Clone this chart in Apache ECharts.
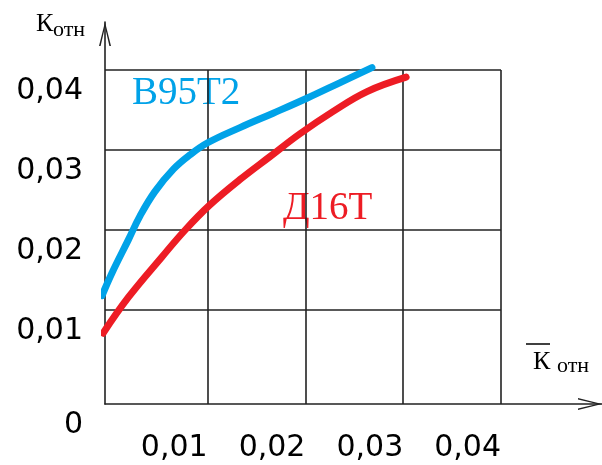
<!DOCTYPE html>
<html><head><meta charset="utf-8">
<script src="https://cdn.jsdelivr.net/npm/echarts@6/dist/echarts.min.js"></script>
<style>html,body{margin:0;padding:0;background:#fff}#c{width:602px;height:465px}</style>
</head><body><div id="c"></div>
<script>
// Tick values and labels
const xTickValues = [0.01, 0.02, 0.03, 0.04];
const xTickLabels = ['0,01', '0,02', '0,03', '0,04'];
const yTickValues = [0.01, 0.02, 0.03, 0.04];
const yTickLabels = ['0,01', '0,02', '0,03', '0,04'];
const originLabel = '0';
// Axis extents (hand-drawn origin sits slightly below/left of zero)
const X_MIN = -0.0005, X_MAX = 0.04;
const Y_MIN = -0.00175, Y_MAX = 0.04;

// Series: В95Т2 (blue)
const b95t2X = [-0.0008, 0.0002, 0.0019, 0.0031, 0.0046, 0.0065, 0.0082, 0.0100, 0.0133, 0.0167, 0.0202, 0.0235, 0.0268];
const b95t2Y = [0.0118, 0.0146, 0.0188, 0.0218, 0.0248, 0.0276, 0.0294, 0.0309, 0.0328, 0.0346, 0.0365, 0.0384, 0.0403];
// Series: Д16Т (red)
const d16tX = [-0.0007, 0.0019, 0.0053, 0.0077, 0.0102, 0.0133, 0.0164, 0.0194, 0.0228, 0.0263, 0.0303];
const d16tY = [0.0071, 0.0116, 0.0166, 0.0200, 0.0231, 0.0263, 0.0292, 0.0320, 0.0348, 0.0373, 0.0391];

const seriesNames = ['В95Т2', 'Д16Т'];
const axisNameY = ['К', 'отн'];
const axisNameX = ['К', 'отн'];

const BLUE = '#00A2E8', RED = '#ED1C24', INK = '#222';

function zip(xs, ys) { return xs.map((x, i) => [x, ys[i]]); }
function labelFor(values, labels) {
  return function (v) {
    const i = values.findIndex(t => Math.abs(t - v) < 1e-9);
    return i >= 0 ? labels[i] : '';
  };
}

const chart = echarts.init(document.getElementById('c'), null, { renderer: 'canvas' });
const arrowPath = 'path://M0,24 L6,0 L12,24 L10.4,24 L6,5 L1.6,24 Z';

chart.setOption({
  animation: false,
  backgroundColor: '#fff',
  grid: [
    { left: 105, top: 70, width: 396, height: 334, containLabel: false },
    { left: 105, top: 22, right: 0, bottom: 61, containLabel: false }
  ],
  xAxis: [
    {
      type: 'value', gridIndex: 0, min: X_MIN, max: X_MAX,
      axisLine: { show: false },
      axisTick: { show: false, customValues: xTickValues },
      splitLine: { show: true, lineStyle: { color: INK, width: 1.6 } },
      axisLabel: {
        customValues: xTickValues,
        formatter: labelFor(xTickValues, xTickLabels),
        fontFamily: 'DejaVu Sans', fontSize: 30, color: '#000',
        margin: 29, align: 'right'
      }
    },
    {
      type: 'value', gridIndex: 1, min: 0, max: 1,
      axisLine: { show: true, symbol: ['none', arrowPath], symbolSize: [24, 24], symbolOffset: [0, -12],
        lineStyle: { color: INK, width: 1.6 } },
      axisTick: { show: false }, axisLabel: { show: false }, splitLine: { show: false }
    }
  ],
  yAxis: [
    {
      type: 'value', gridIndex: 0, min: Y_MIN, max: Y_MAX,
      axisLine: { show: false },
      axisTick: { show: false, customValues: yTickValues },
      splitLine: { show: true, lineStyle: { color: INK, width: 1.6 } },
      axisLabel: {
        customValues: [Y_MIN].concat(yTickValues),
        formatter: labelFor([Y_MIN].concat(yTickValues), [originLabel].concat(yTickLabels)),
        fontFamily: 'DejaVu Sans', fontSize: 30, color: '#000',
        margin: 22, verticalAlign: 'top', lineHeight: 42
      }
    },
    {
      type: 'value', gridIndex: 1, min: 0, max: 1,
      axisLine: { show: true, symbol: ['none', arrowPath], symbolSize: [12, 24], symbolOffset: [0, -12],
        lineStyle: { color: INK, width: 1.6 } },
      axisTick: { show: false }, axisLabel: { show: false }, splitLine: { show: false }
    }
  ],
  series: [
    {
      name: seriesNames[0], type: 'line', xAxisIndex: 0, yAxisIndex: 0,
      data: zip(b95t2X, b95t2Y), smooth: 0.4, showSymbol: false, clip: false,
      lineStyle: { color: BLUE, width: 7, cap: 'round', join: 'round' }, z: 5
    },
    {
      name: seriesNames[1], type: 'line', xAxisIndex: 0, yAxisIndex: 0,
      data: zip(d16tX, d16tY), smooth: 0.4, showSymbol: false, clip: false,
      lineStyle: { color: RED, width: 7, cap: 'round', join: 'round' }, z: 5
    }
  ],
  graphic: [
    { type: 'text', x: 36, y: 24, style: { text: axisNameY[0], font: '26px "Liberation Serif"', fill: '#000', verticalAlign: 'middle' } },
    { type: 'text', x: 53, y: 30, style: { text: axisNameY[1], font: '22px "Liberation Serif"', fill: '#000', verticalAlign: 'middle' } },
    { type: 'line', shape: { x1: 526, y1: 344, x2: 550, y2: 344 }, style: { stroke: '#000', lineWidth: 1.5 } },
    { type: 'text', x: 533, y: 362, style: { text: axisNameX[0], font: '26px "Liberation Serif"', fill: '#000', verticalAlign: 'middle' } },
    { type: 'text', x: 557, y: 366, style: { text: axisNameX[1], font: '22px "Liberation Serif"', fill: '#000', verticalAlign: 'middle' } },
    { type: 'text', x: 132, y: 94, style: { text: seriesNames[0], font: '39px "Liberation Serif"', fill: BLUE, verticalAlign: 'middle' } },
    { type: 'text', x: 283, y: 209, style: { text: seriesNames[1], font: '39px "Liberation Serif"', fill: RED, verticalAlign: 'middle' } }
  ]
});
</script>
</body></html>
